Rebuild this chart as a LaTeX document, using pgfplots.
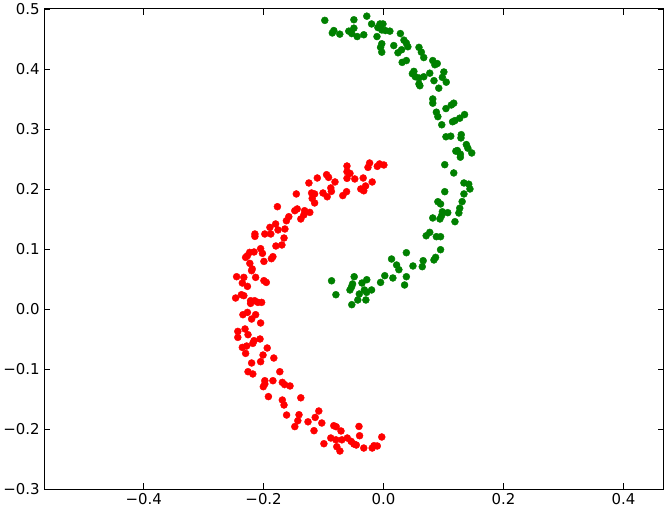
\documentclass[border=0pt]{standalone}
\usepackage{fontspec}
\setmainfont{DejaVu Sans}
\usepackage{pgfplots}
\pgfplotsset{compat=1.18}
\definecolor{mplgreen}{rgb}{0,0.5,0}
\definecolor{mplred}{rgb}{1,0,0}

\begin{document}
\begin{tikzpicture}
\begin{axis}[
    scale only axis,
    width=620bp, height=480.5bp,
    xmin=-0.566, xmax=0.4667,
    ymin=-0.3, ymax=0.5,
    xtick={-0.4,-0.2,0,0.2,0.4},
    xticklabels={−0.4,−0.2,0.0,0.2,0.4},
    ytick={-0.3,-0.2,-0.1,0,0.1,0.2,0.3,0.4,0.5},
    yticklabels={−0.3,−0.2,−0.1,0.0,0.1,0.2,0.3,0.4,0.5},
    tick align=inside,
    major tick length=6bp,
    tick style={black, line width=0.6bp},
    axis line style={black, line width=1bp},
    tick label style={font=\fontsize{15}{18}\selectfont},
    xticklabel style={yshift=-1bp},
    yticklabel style={xshift=-1bp},
    clip=false,
]
% green arm
\addplot[only marks, mark=*, mark size=3.5bp, mplgreen, mark options={draw=none, fill=mplgreen}] coordinates {
(-0.098,0.481) (-0.0495,0.482) (-0.028,0.488) (-0.020,0.475) (-0.006,0.475) (-0.001,0.475)
(-0.0495,0.468) (-0.083,0.464) (-0.0855,0.460) (-0.073,0.458) (-0.058,0.463) (-0.053,0.459)
(-0.044,0.454) (-0.033,0.457) (-0.0095,0.469) (-0.003,0.465) (0.003,0.464) (0.0105,0.463)
(-0.011,0.454) (0.028,0.459) (0.034,0.448) (0.038,0.443) (0.0405,0.437) (0.017,0.439)
(-0.003,0.442) (-0.005,0.436) (-0.003,0.428) (0.024,0.427) (0.030,0.432) (0.059,0.436)
(0.063,0.428) (0.067,0.419) (0.031,0.411) (0.038,0.414) (0.082,0.414) (0.0855,0.407)
(0.0895,0.409) (0.0505,0.396) (0.048,0.392) (0.053,0.387) (0.059,0.385) (0.067,0.387)
(0.077,0.393) (0.1005,0.395) (0.098,0.386) (0.1045,0.378) (0.084,0.3805) (0.059,0.375)
(0.0605,0.372) (0.092,0.368) (0.082,0.350) (0.082,0.343) (0.117,0.343) (0.113,0.340)
(0.104,0.334) (0.088,0.328) (0.0905,0.3205) (0.135,0.324) (0.127,0.318) (0.119,0.314)
(0.115,0.312) (0.097,0.307) (0.104,0.287) (0.112,0.288) (0.1295,0.2905) (0.129,0.285)
(0.138,0.274) (0.1405,0.268) (0.123,0.264) (0.1205,0.263) (0.128,0.258) (0.128,0.253)
(0.147,0.260) (0.102,0.2405)
(0.117,0.2267) (0.134,0.210) (0.142,0.208) (0.144,0.200) (0.134,0.1917) (0.102,0.1955)
(0.131,0.179) (0.127,0.168) (0.1255,0.160) (0.119,0.1455) (0.0905,0.1788) (0.095,0.175)
(0.098,0.162) (0.107,0.1605) (0.0967,0.1555) (0.094,0.150) (0.082,0.1517) (0.077,0.1277)
(0.071,0.122) (0.088,0.1205) (0.095,0.1205) (0.095,0.0988) (0.0867,0.086) (0.084,0.0817)
(0.066,0.0805) (0.0645,0.0705) (0.049,0.0717) (0.038,0.0938) (0.0133,0.0833) (0.0217,0.0733)
(0.0255,0.0655) (0.002,0.0555) (0.0155,0.0517) (0.038,0.0538) (0.035,0.040) (-0.005,0.0443)
(-0.0867,0.047) (-0.0795,0.0238) (-0.049,0.0538) (-0.0517,0.0417) (-0.0533,0.037) (-0.056,0.0317)
(-0.036,0.0433) (-0.028,0.0488) (-0.032,0.0317) (-0.0283,0.0277) (-0.020,0.0317) (-0.0405,0.025)
(-0.043,0.015) (-0.0295,0.015) (-0.053,0.0072)
};
% red arm
\addplot[only marks, mark=*, mark size=3.5bp, mplred, mark options={draw=none, fill=mplred}] coordinates {
(-0.061,0.2383) (-0.0233,0.2433) (-0.026,0.236) (-0.0105,0.2377) (-0.0067,0.2417) (0.0005,0.240)
(-0.061,0.2288) (-0.056,0.226) (-0.095,0.2238) (-0.0917,0.2193) (-0.1105,0.2183) (-0.061,0.2177)
(-0.048,0.2167) (-0.034,0.2183) (-0.019,0.2117) (-0.081,0.2117) (-0.1245,0.210) (-0.030,0.205)
(-0.038,0.200) (-0.033,0.197) (-0.088,0.2017) (-0.087,0.196) (-0.0617,0.1955) (-0.068,0.189)
(-0.101,0.1933) (-0.094,0.187) (-0.120,0.1933) (-0.115,0.1917) (-0.119,0.1843) (-0.115,0.1767)
(-0.1455,0.1917) (-0.144,0.1667) (-0.148,0.1638) (-0.1317,0.1638) (-0.123,0.161) (-0.133,0.1567)
(-0.138,0.150) (-0.158,0.1538) (-0.162,0.147) (-0.177,0.1705) (-0.180,0.1417) (-0.1895,0.136)
(-0.176,0.1317) (-0.1645,0.1333) (-0.188,0.125) (-0.198,0.125) (-0.2145,0.125) (-0.2145,0.121)
(-0.166,0.1183)
(-0.1795,0.105) (-0.1695,0.1067) (-0.205,0.1005) (-0.202,0.0927) (-0.216,0.095) (-0.2233,0.0943)
(-0.227,0.0888) (-0.230,0.086) (-0.1995,0.0793) (-0.1845,0.0872) (-0.187,0.0838) (-0.223,0.076)
(-0.219,0.0667) (-0.220,0.0638) (-0.245,0.0538) (-0.233,0.0527) (-0.2133,0.0527) (-0.2355,0.0433)
(-0.227,0.0377) (-0.1995,0.0472) (-0.1955,0.0443) (-0.237,0.0238) (-0.233,0.0222) (-0.2467,0.0183)
(-0.2217,0.0138) (-0.2217,0.0093) (-0.215,0.0138) (-0.2095,0.011) (-0.2033,0.011) (-0.227,-0.0057)
(-0.2133,-0.0095) (-0.2345,-0.0095) (-0.220,-0.0167) (-0.205,-0.0233) (-0.231,-0.0333) (-0.243,-0.0373)
(-0.243,-0.0473) (-0.226,-0.0428) (-0.216,-0.0528) (-0.218,-0.0573) (-0.206,-0.050) (-0.2355,-0.064)
(-0.2283,-0.0617) (-0.230,-0.074) (-0.194,-0.065) (-0.201,-0.0767) (-0.183,-0.0817) (-0.205,-0.0878)
(-0.220,-0.090) (-0.226,-0.1045) (-0.218,-0.1083) (-0.173,-0.1045) (-0.198,-0.1195) (-0.1845,-0.1195)
(-0.198,-0.125) (-0.2005,-0.1295) (-0.192,-0.146)
(-0.1688,-0.1223) (-0.165,-0.126) (-0.156,-0.1283) (-0.1688,-0.1517) (-0.166,-0.160) (-0.138,-0.148)
(-0.1617,-0.1767) (-0.141,-0.1762) (-0.143,-0.1862) (-0.148,-0.196) (-0.126,-0.188) (-0.114,-0.1807)
(-0.108,-0.170) (-0.103,-0.190) (-0.116,-0.2028) (-0.0995,-0.2245) (-0.088,-0.215) (-0.083,-0.1945)
(-0.079,-0.1962) (-0.071,-0.2033) (-0.0795,-0.218) (-0.078,-0.2295) (-0.0728,-0.2367) (-0.0695,-0.218)
(-0.0605,-0.215) (-0.054,-0.2207) (-0.0495,-0.225) (-0.041,-0.1957) (-0.040,-0.2112) (-0.0455,-0.2267)
(-0.033,-0.2317) (-0.019,-0.2317) (-0.016,-0.2278) (-0.0105,-0.2283) (-0.003,-0.2133)
};
\end{axis}
\end{tikzpicture}
\end{document}
